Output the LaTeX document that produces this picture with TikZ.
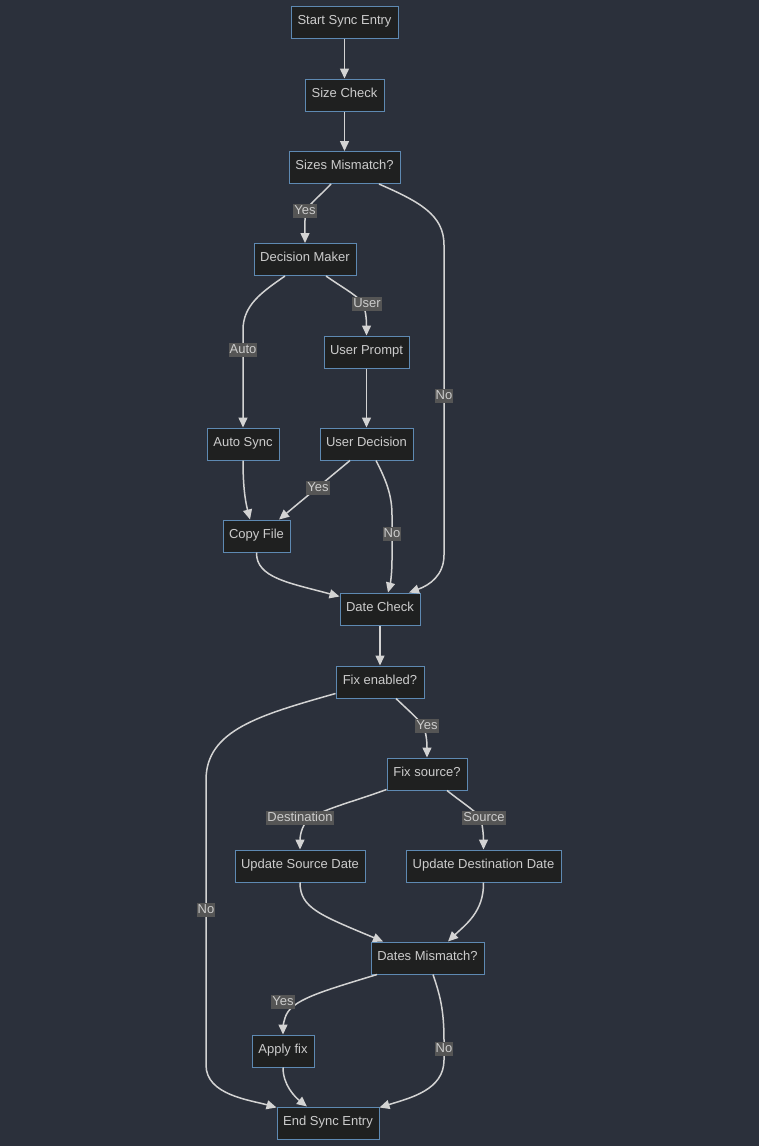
\documentclass[tikz,border=0pt]{standalone}
\usepackage{fontspec}
\setmainfont{Liberation Sans}
\usetikzlibrary{arrows.meta}
\definecolor{bgc}{HTML}{2B303B}
\definecolor{nodefill}{HTML}{1F2020}
\definecolor{nodeborder}{HTML}{5E89B2}
\definecolor{txtc}{HTML}{CCCCCC}
\definecolor{edgec}{HTML}{D3D3D3}
\definecolor{lblbg}{HTML}{555555}
\tikzset{
  box/.style={draw=nodeborder, fill=nodefill, line width=1pt, text=txtc,
    font=\fontsize{13}{15}\selectfont, minimum height=32pt, inner sep=0pt,
    text height=9.5pt, text depth=4.7pt},
  lbl/.style={fill=lblbg, text=txtc, font=\fontsize{13}{15}\selectfont,
    inner sep=1pt, text height=9.5pt, text depth=2.7pt, yshift=-1pt},
  edge/.style={draw=edgec, line width=1.5pt, -{Triangle[length=10pt,width=9pt]}}
}
\begin{document}
\begin{tikzpicture}[x=1pt,y=-1pt]
\fill[bgc] (0,0) rectangle (759,1146);
\useasboundingbox (0,0) rectangle (759,1146);
% nodes
\node[box, minimum width=107pt] (start) at (344.5,22) {Start Sync Entry};
\node[box, minimum width=79pt] (size) at (344.5,95) {Size Check};
\node[box, minimum width=111pt] (smm) at (344.5,167.5) {Sizes Mismatch?};
\node[box, minimum width=102pt] (dm) at (305,259.5) {Decision Maker};
\node[box, minimum width=85pt] (up) at (366.5,352) {User Prompt};
\node[box, minimum width=72pt] (as) at (243,444) {Auto Sync};
\node[box, minimum width=93pt] (ud) at (366.5,444) {User Decision};
\node[box, minimum width=67pt] (cf) at (256.5,536) {Copy File};
\node[box, minimum width=80pt] (dc) at (380,609) {Date Check};
\node[box, minimum width=88pt] (fe) at (380,682) {Fix enabled?};
\node[box, minimum width=80pt] (fs) at (427,774) {Fix source?};
\node[box, minimum width=130pt] (usd) at (300,866) {Update Source Date};
\node[box, minimum width=155pt] (udd) at (483.5,866) {Update Destination Date};
\node[box, minimum width=113pt] (dmm) at (427.5,958) {Dates Mismatch?};
\node[box, minimum width=62pt] (af) at (283,1051) {Apply fix};
\node[box, minimum width=102pt] (endn) at (328,1123) {End Sync Entry};
% edges
\draw[edge] (start.south) -- (size.north);
\draw[edge] (size.south) -- (smm.north);
\draw[edge] ([xshift=-13.5pt]smm.south) .. controls (318,198) and (307,205) .. (305.5,214)
  .. controls (304.5,222) and (305,232) .. (dm.north)
  node[lbl, at={(305,210)}] {Yes};
\draw[edge] ([xshift=34.5pt]smm.south) .. controls (420,202) and (444,215) .. (444,245)
  -- (444,555) .. controls (444,575) and (430,585) .. ([xshift=29pt]dc.north)
  node[lbl, at={(444,395)}] {No};
\draw[edge] ([xshift=-20pt]dm.south) .. controls (262,292) and (243,305) .. (243,330)
  -- (as.north)
  node[lbl, at={(243,349)}] {Auto};
\draw[edge] ([xshift=21pt]dm.south) .. controls (340,286) and (355,294) .. (362,302)
  .. controls (366,310) and (366.5,320) .. (up.north)
  node[lbl, at={(367,303)}] {User};
\draw[edge] (up.south) -- (ud.north);
\draw[edge] ([xshift=-16.5pt]ud.south) -- ([xshift=22.5pt]cf.north)
  node[lbl, at={(318,487)}] {Yes};
\draw[edge] ([xshift=9.5pt]ud.south) .. controls (386,480) and (392,495) .. (392,515)
  -- (392,560) .. controls (392,575) and (390,585) .. ([xshift=8pt]dc.north)
  node[lbl, at={(392,533)}] {No};
\draw[edge] (as.south) .. controls (243,485) and (245,500) .. ([xshift=-6.5pt]cf.north);
\draw[edge] (cf.south) .. controls (256,578) and (290,583) .. ([yshift=-4pt]dc.north west);
\draw[edge] (dc.south) -- (fe.north);
\draw[edge] ([xshift=16pt]fe.south) .. controls (410,712) and (420,720) .. (424,728)
  .. controls (427,736) and (427,746) .. (fs.north)
  node[lbl, at={(427,725)}] {Yes};
\draw[edge] ([yshift=5pt]fe.south west) .. controls (260,715) and (206,730) .. (206,780)
  -- (206,1065) .. controls (206,1095) and (250,1100) .. ([yshift=-1pt]endn.north west)
  node[lbl, at={(206,909)}] {No};
\draw[edge] ([yshift=1pt]fs.south west) .. controls (350,803) and (318,810) .. (306,822)
  .. controls (300,830) and (300,840) .. (usd.north)
  node[lbl, at={(300,817)}] {Destination};
\draw[edge] ([xshift=20pt]fs.south) .. controls (465,805) and (478,812) .. (481,820)
  .. controls (483.5,830) and (483.5,840) .. (udd.north)
  node[lbl, at={(484,817)}] {Source};
\draw[edge] (usd.south) .. controls (300,908) and (320,915) .. ([xshift=-44.5pt]dmm.north);
\draw[edge] (udd.south) .. controls (484,912) and (465,925) .. ([xshift=20.5pt]dmm.north);
\draw[edge] ([xshift=-50.5pt]dmm.south) .. controls (320,992) and (290,1000) .. (285,1018)
  .. controls (283,1024) and (283,1028) .. (af.north)
  node[lbl, at={(283,1001)}] {Yes};
\draw[edge] ([xshift=5.5pt]dmm.south) .. controls (440,995) and (444,1010) .. (444,1040)
  -- (444,1060) .. controls (444,1090) and (410,1098) .. ([yshift=-1pt]endn.north east)
  node[lbl, at={(444,1048)}] {No};
\draw[edge] (af.south) .. controls (283,1085) and (295,1097) .. ([xshift=-21pt]endn.north);
\end{tikzpicture}
\end{document}
